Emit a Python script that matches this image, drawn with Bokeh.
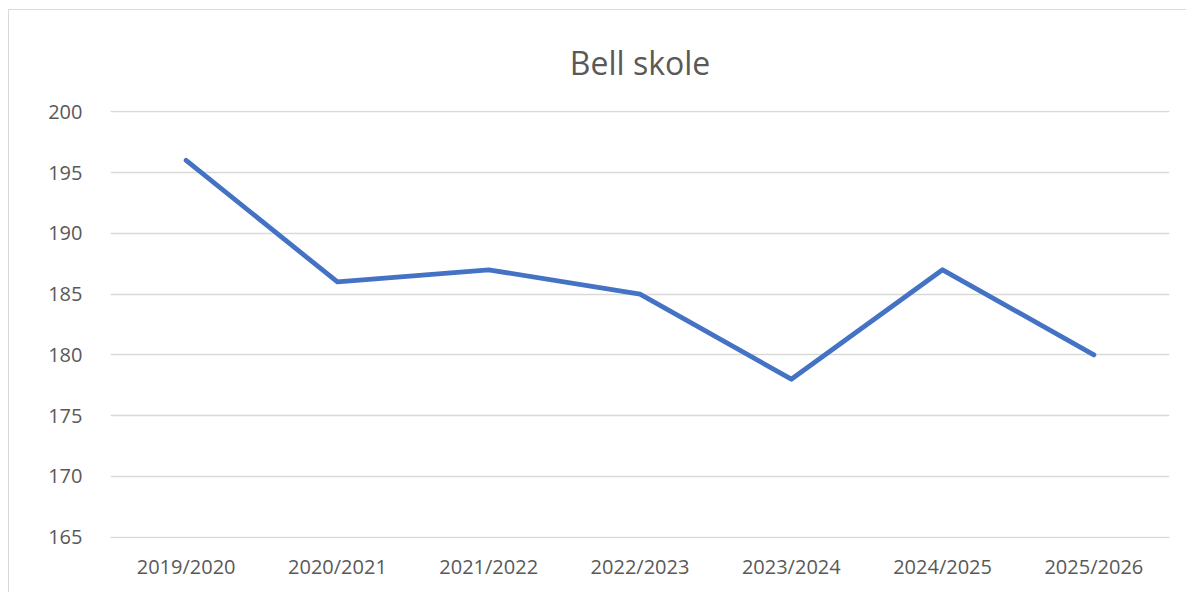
from bokeh.plotting import figure
from bokeh.models import FactorRange, SingleIntervalTicker
from bokeh.embed import file_html
from bokeh.resources import INLINE

years = ["2019/2020", "2020/2021", "2021/2022", "2022/2023", "2023/2024", "2024/2025", "2025/2026"]
values = [196, 186, 187, 185, 178, 187, 180]
title_text = "Bell skole"

FONT = "Open Sans"
GREY = "#595959"

p = figure(width=1178, height=583, x_range=FactorRange(*years, range_padding=0),
           y_range=(164.9, 200.1), output_backend="svg", toolbar_location=None,
           title=title_text, min_border_left=101, min_border_right=18,
           min_border_bottom=55, min_border_top=100,
           styles={"border-top": "1px solid #d9d9d9", "border-left": "1px solid #d9d9d9",
                   "margin-top": "9px", "margin-left": "8px"})

p.line(years, values, line_color="#4472C4", line_width=4.8, line_join="round", line_cap="round")

p.title.align = "center"
p.title.vertical_align = "top"
p.title.text_font = FONT
p.title.text_font_size = "32px"
p.title.text_font_style = "normal"
p.title.text_color = GREY
p.title.offset = 0
p.title.standoff = 50

p.outline_line_color = None
p.background_fill_color = "white"
p.border_fill_color = "white"

p.yaxis.ticker = SingleIntervalTicker(interval=5)
for ax in (p.xaxis, p.yaxis):
    ax.axis_line_color = None
    ax.major_tick_line_color = None
    ax.minor_tick_line_color = None
    ax.major_label_text_font = FONT
    ax.major_label_text_font_size = "20px"
    ax.major_label_text_color = GREY
p.yaxis.major_label_standoff = 22
p.xaxis.major_label_standoff = 8

p.xgrid.grid_line_color = None
p.ygrid.grid_line_color = "#d9d9d9"
p.ygrid.grid_line_width = 1.5

open("out.html", "w").write(file_html(p, INLINE))
